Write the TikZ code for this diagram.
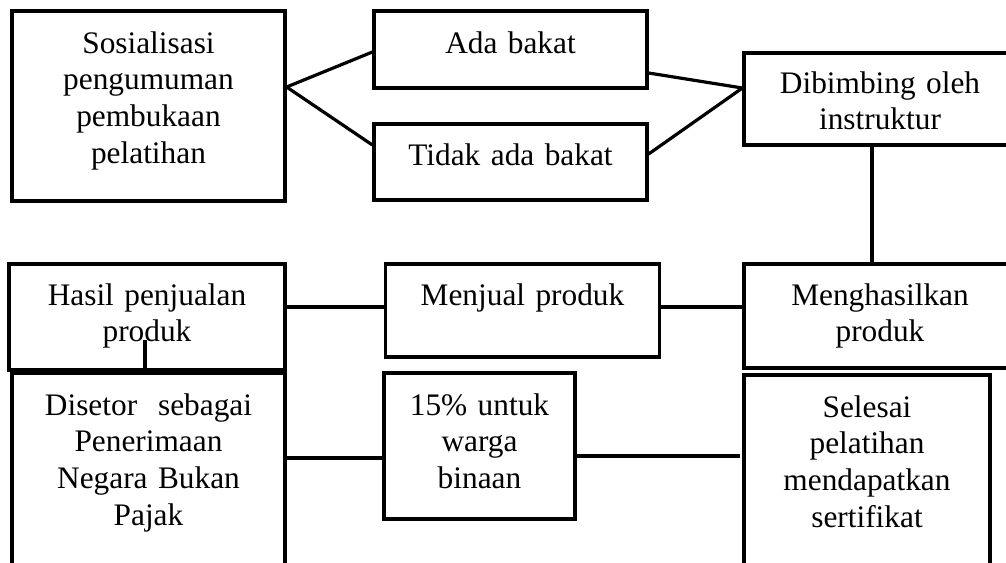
\documentclass[tikz,border=0pt]{standalone}
\usepackage{fontspec}
\setmainfont{Liberation Serif}

\begin{document}
\begin{tikzpicture}[x=0.75pt, y=-0.75pt, line width=2.4pt,
  box/.style={draw, line width=2.4pt, inner sep=0pt, anchor=base, align=center,
    font=\fontsize{23.5}{27.5}\selectfont}]
  \useasboundingbox (0,0) rectangle (1006,562);
  \clip (0,0) rectangle (1006,562);
  % upper part
  \node[box, text width=204.75pt, text height=31.5pt, text depth=111pt] (sos) at (148.5,53)
    {Sosialisasi\\pengumuman\\pembukaan\\pelatihan};
  \node[box, text width=204.75pt, text height=31.5pt, text depth=26.25pt] (ada) at (510.5,53) {Ada bakat};
  \node[box, text width=204.75pt, text height=30.75pt, text depth=26.25pt] (tidak) at (510.5,165) {Tidak ada bakat};
  \node[box, text width=204pt, text height=30pt, text depth=39pt] (dib) at (880,93) {Dibimbing oleh\\instruktur};
  % middle row
  \node[box, text width=204pt, text height=30.75pt, text depth=47.25pt] (hsl) at (880,305) {Menghasilkan\\produk};
  \node[box, text width=205.5pt, text height=30.75pt, text depth=39pt] (jual) at (522.5,305) {Menjual produk};
  \node[box, text width=207pt, text height=30.75pt, text depth=48.75pt] (hasil) at (147,305) {Hasil penjualan\\produk};
  % lower row
  \node[box, text width=204.75pt, text height=31.5pt, text depth=138.75pt] (setor) at (148.5,415)
    {Disetor\ \ sebagai\\Penerimaan\\Negara Bukan\\Pajak};
  \node[box, text width=143.25pt, text height=31.5pt, text depth=78pt] (warga) at (479.5,415) {15\% untuk\\warga\\binaan};
  \node[box, text width=184.5pt, text height=31.5pt, text depth=137.25pt] (sert) at (867,417)
    {Selesai\\pelatihan\\mendapatkan\\sertifikat};
  \coordinate (stub) at (145,340);
  % connectors
  \draw (sos.east |- 0,87) -- (ada.west |- 0,52);
  \draw (sos.east |- 0,87) -- (tidak.west |- 0,145);
  \draw (ada.east |- 0,73) -- (dib.west |- 0,88);
  \draw (tidak.east |- 0,154) -- (dib.west |- 0,88);
  \draw (dib.south -| 872,0) -- (hsl.north -| 872,0);
  \draw (hasil.east |- 0,307) -- (jual.west |- 0,307);
  \draw (jual.east |- 0,307) -- (hsl.west |- 0,307);
  \draw (hasil.south -| stub) -- (stub);
  \draw (setor.east |- 0,458) -- (warga.west |- 0,458);
  \draw[shorten >=2pt] (warga.east |- 0,456) -- (sert.west |- 0,456);
\end{tikzpicture}
\end{document}
